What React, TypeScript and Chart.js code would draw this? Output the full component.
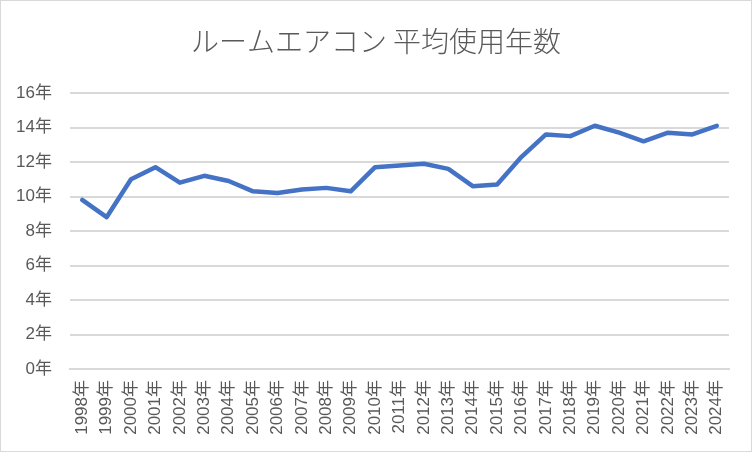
import React, { useEffect, useRef } from "react";
import { Chart, registerables } from "chart.js";

Chart.register(...registerables);

const years = ["1998", "1999", "2000", "2001", "2002", "2003", "2004", "2005", "2006", "2007", "2008", "2009", "2010", "2011", "2012", "2013", "2014", "2015", "2016", "2017", "2018", "2019", "2020", "2021", "2022", "2023", "2024"];
const categories = years.map((y) => y + "年");
const avgYears = [9.8, 8.8, 11.0, 11.7, 10.8, 11.2, 10.9, 10.3, 10.2, 10.4, 10.5, 10.3, 11.7, 11.8, 11.9, 11.6, 10.6, 10.7, 12.3, 13.6, 13.5, 14.1, 13.7, 13.2, 13.7, 13.6, 14.1];
const titleText = "ルームエアコン 平均使用年数";

const FONT = "'Liberation Sans', 'Noto Sans CJK JP', sans-serif";

export default function App() {
  const ref = useRef<HTMLCanvasElement>(null);
  useEffect(() => {
    if (!ref.current) return;
    const chart = new Chart(ref.current, {
      type: "line",
      data: {
        labels: categories,
        datasets: [
          {
            data: avgYears,
            borderColor: "#4472C4",
            backgroundColor: "#4472C4",
            borderWidth: 4.5,
            pointRadius: 0,
            tension: 0,
            borderJoinStyle: "round",
            borderCapStyle: "round",
          },
        ],
      },
      options: {
        animation: false,
        responsive: false,
        maintainAspectRatio: false,
        layout: { padding: { top: 24, right: 0, bottom: 2, left: 0 } },
        plugins: {
          legend: { display: false },
          tooltip: { enabled: false },
          title: {
            display: true,
            text: titleText,
            color: "#595959",
            font: { family: "'Noto Sans CJK JP', sans-serif", size: 28, weight: "300" },
            padding: { top: 0, bottom: 34.4 },
          },
        },
        scales: {
          x: {
            offset: true,
            grid: { display: false, drawTicks: false },
            border: { display: true, color: "#d9d9d9", width: 2 },
            ticks: {
              color: "#595959",
              font: { family: FONT, size: 17 },
              minRotation: 90,
              maxRotation: 90,
              autoSkip: false,
              padding: 11,
            },
            afterFit: (s: any) => {
              s.height = 80;
            },
          },
          y: {
            min: 0,
            max: 16,
            grid: { color: "#d9d9d9", lineWidth: 2, drawTicks: false },
            border: { display: false },
            ticks: {
              stepSize: 2,
              color: "#595959",
              font: { family: FONT, size: 17 },
              padding: 18,
              callback: (v: any) => v + "年",
            },
            afterFit: (s: any) => {
              s.width = 69;
            },
          },
          yr: {
            position: "right",
            min: 0,
            max: 16,
            grid: { display: false, drawTicks: false },
            border: { display: false },
            ticks: { display: false },
            afterFit: (s: any) => {
              s.width = 22;
            },
          },
        },
      },
    });
    return () => chart.destroy();
  }, []);
  return (
    <div
      style={{
        position: "fixed",
        left: 0,
        top: 0,
        width: 752,
        height: 452,
        boxSizing: "border-box",
        border: "1px solid #d9d9d9",
        background: "#fff",
      }}
    >
      <canvas ref={ref} width={750} height={450} style={{ display: "block" }} />
    </div>
  );
}
